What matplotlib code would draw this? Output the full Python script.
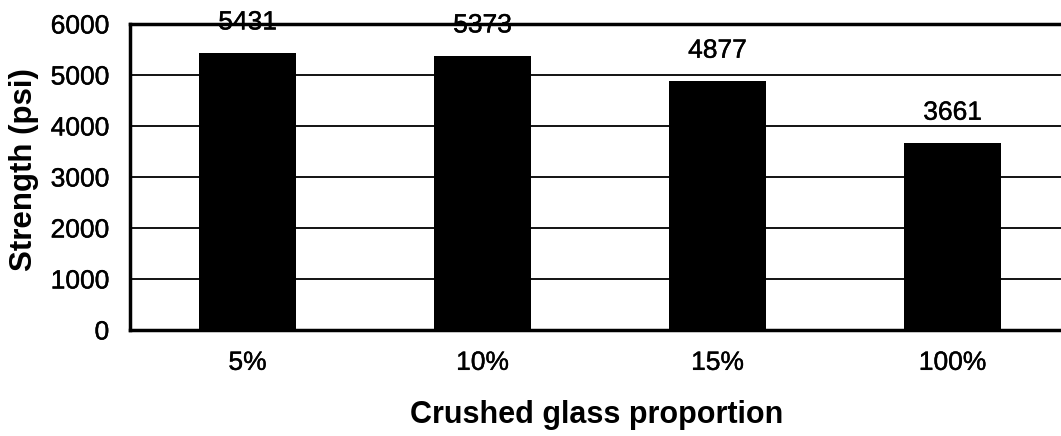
import matplotlib
matplotlib.use("Agg")
import matplotlib.pyplot as plt
import matplotlib.patheffects as pe

categories = ["5%", "10%", "15%", "100%"]
strength = [5431, 5373, 4877, 3661]
y_ticks = [0, 1000, 2000, 3000, 4000, 5000, 6000]

plt.rcParams["font.family"] = ["Liberation Sans", "DejaVu Sans"]

fig = plt.figure(figsize=(10.61, 4.36), dpi=100)
W, H = 1061, 436
left, right, top, bottom = 130, 1070, 24, 330
ax = fig.add_axes([left / W, 1 - bottom / H, (right - left) / W, (bottom - top) / H])

x = range(len(categories))
ax.bar(x, strength, width=0.41, color="black", zorder=3)

ax.set_xlim(-0.5, 3.5)
ax.set_ylim(0, 6000)
ax.set_yticks(y_ticks)
ax.set_xticks(list(x))
ax.set_xticklabels(categories)
ax.yaxis.grid(True, color="black", linewidth=1.3, zorder=1)
ax.set_axisbelow(True)

thick = [pe.withStroke(linewidth=0.3, foreground="black")]

for i, v in enumerate(strength):
    ax.annotate(str(v), (i, v), xytext=(0, 22), textcoords="offset points",
                ha="center", va="center", fontsize=19, zorder=5,
                path_effects=thick)

ax.tick_params(axis="both", length=0, labelsize=19)
ax.tick_params(axis="y", pad=15)
ax.tick_params(axis="x", pad=15)
for lab in ax.get_xticklabels() + ax.get_yticklabels():
    lab.set_path_effects(thick)

for s in ("left", "top", "bottom"):
    ax.spines[s].set_linewidth(2.5)
ax.spines["right"].set_visible(False)

ax.set_ylabel("Strength (psi)", fontsize=22.5, fontweight="bold", va="center")
ax.yaxis.set_label_coords((24 - left) / (right - left), (bottom - 170) / (bottom - top))
ax.set_xlabel("Crushed glass proportion", fontsize=22, fontweight="bold", va="center")
ax.xaxis.set_label_coords((597 - left) / (right - left), (bottom - 415) / (bottom - top))

fig.savefig("out.png", dpi=100)
